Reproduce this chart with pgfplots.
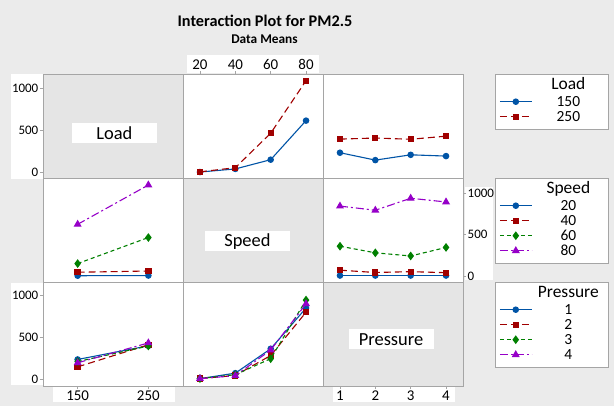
\documentclass[border=0pt]{standalone}
\usepackage{pgfplots}
\pgfplotsset{compat=1.18}
\usepackage{fontspec}
\setmainfont{Carlito}
\definecolor{bg}{RGB}{235,235,235}
\definecolor{diag}{RGB}{229,229,229}
\definecolor{axgray}{RGB}{165,165,165}
\definecolor{c1}{RGB}{0,84,166}
\definecolor{c2}{RGB}{160,0,0}
\definecolor{c3}{RGB}{0,128,0}
\definecolor{c4}{RGB}{150,0,200}
\tikzset{lab/.style={fill=white, minimum width=85bp, minimum height=20bp, inner sep=0pt, font=\fontsize{18.5}{18.5}\selectfont}}
\pgfplotsset{
 panel/.style={scale only axis, width=140bp, height=104bp, anchor=north west,
   axis line style={draw=axgray, line width=0.6bp},
   xtick=\empty, ytick=\empty,
   tick align=outside, major tick length=3bp,
   every tick/.append style={draw=axgray, line width=0.6bp},
   xticklabel style={font=\fontsize{15}{15}\selectfont, inner sep=1.5bp},
   yticklabel style={font=\fontsize{13}{13}\selectfont, inner sep=1.5bp},
   axis background/.style={fill=white},
   clip mode=individual,
   legend image code/.code={\draw[mark repeat=2,mark phase=2] plot coordinates {(0bp,0bp) (16bp,0bp) (32bp,0bp)};},
   legend cell align=left,
   legend style={anchor=north west, draw=axgray, fill=white, inner xsep=4bp, inner ysep=5bp, row sep=0bp,
     font=\fontsize{15.5}{15.5}\selectfont, nodes={inner sep=1bp, text height=11bp, text depth=2bp}},
 },
 diagp/.style={panel, axis background/.style={fill=diag}},
 rA/.style={ymin=-68, ymax=1170},
 rB/.style={ymin=-73, ymax=1185},
 rC/.style={ymin=-83, ymax=1155},
 cL/.style={xmin=101, xmax=299},
 cS/.style={xmin=10.4, xmax=89.6},
 cP/.style={xmin=0.52, xmax=4.48},
 s1/.style={color=c1, line width=1.1bp, solid, mark=*, mark size=2.7bp, mark options={solid}},
 s2/.style={color=c2, line width=1.1bp, dash pattern=on 7bp off 4bp, mark=square*, mark size=2.6bp, mark options={solid}},
 s3/.style={color=c3, line width=1.1bp, dash pattern=on 4bp off 3bp, mark=diamond*, mark size=3.5bp, mark options={solid}},
 s4/.style={color=c4, line width=1.1bp, dash pattern=on 8bp off 3bp on 2bp off 3bp, mark=triangle*, mark size=3.5bp, mark options={solid}},
}
\newcommand{\lt}[1]{\makebox[70bp][c]{#1}}
\newcommand{\ltt}[1]{\makebox[70bp][c]{\raisebox{1.5bp}{\fontsize{17.5}{17.5}\selectfont #1}}}
\begin{document}
\begin{tikzpicture}
\fill[bg] (0bp,0bp) rectangle (614bp,-406bp);
\fill[white] (11bp,-74bp) rectangle (43bp,-179bp);
\fill[white] (11bp,-283bp) rectangle (43bp,-385bp);
\fill[white] (187bp,-55bp) rectangle (319bp,-73bp);
\fill[white] (53bp,-387bp) rectangle (175bp,-402bp);
\fill[white] (333bp,-387bp) rectangle (455bp,-402bp);
\fill[white] (465bp,-187bp) rectangle (493bp,-280bp);
\node[font=\bfseries\fontsize{16.3}{16.3}\selectfont] at (265bp,-21bp) {Interaction Plot for PM2.5};
\node[font=\bfseries\fontsize{13.4}{13.4}\selectfont] at (264.5bp,-39.5bp) {Data Means};

% Row 1
\begin{axis}[diagp, rA, cL, at={(43bp,-74bp)}, ytick={0,500,1000}, yticklabels={0,500,1000}, ytick pos=left, yticklabel pos=left]
\node[lab] at (rel axis cs:0.51,0.428) {Load};
\end{axis}
\begin{axis}[panel, rA, cS, at={(183bp,-74bp)}, xtick={20,40,60,80}, xticklabels={20,40,60,80}, xtick pos=right, xticklabel pos=right]
\addplot[s1] coordinates {(20,3) (40,40) (60,150) (80,615)};
\addplot[s2] coordinates {(20,5) (40,55) (60,465) (80,1090)};
\end{axis}
\begin{axis}[panel, rA, cP, at={(323bp,-74bp)}, legend style={at={(1.229,1)}}]
\addlegendimage{empty legend}
\addlegendentry{\ltt{Load}}
\addplot[s1] coordinates {(1,233) (2,145) (3,208) (4,193)};
\addlegendentry{\lt{150}}
\addplot[s2] coordinates {(1,395) (2,408) (3,393) (4,430)};
\addlegendentry{\lt{250}}
\end{axis}

% Row 2
\begin{axis}[panel, rB, cL, at={(43bp,-178bp)}]
\addplot[s1] coordinates {(150,3) (250,5)};
\addplot[s2] coordinates {(150,45) (250,60)};
\addplot[s3] coordinates {(150,150) (250,465)};
\addplot[s4] coordinates {(150,625) (250,1100)};
\end{axis}
\begin{axis}[diagp, rB, cS, at={(183bp,-178bp)}]
\node[lab] at (rel axis cs:0.46,0.39) {Speed};
\end{axis}
\begin{axis}[panel, rB, cP, at={(323bp,-178bp)}, ytick={0,500,1000}, yticklabels={0,500,1000}, ytick pos=right, yticklabel pos=right, legend style={at={(1.229,1)}}]
\addlegendimage{empty legend}
\addlegendentry{\ltt{Speed}}
\addplot[s1] coordinates {(1,5) (2,5) (3,5) (4,5)};
\addlegendentry{\lt{20}}
\addplot[s2] coordinates {(1,70) (2,42) (3,52) (4,40)};
\addlegendentry{\lt{40}}
\addplot[s3] coordinates {(1,360) (2,280) (3,242) (4,345)};
\addlegendentry{\lt{60}}
\addplot[s4] coordinates {(1,845) (2,795) (3,940) (4,895)};
\addlegendentry{\lt{80}}
\end{axis}

% Row 3
\begin{axis}[panel, rC, cL, at={(43bp,-282bp)}, ytick={0,500,1000}, yticklabels={0,500,1000}, ytick pos=left, yticklabel pos=left, xtick={150,250}, xticklabels={150,250}, xtick pos=left, xticklabel pos=left]
\addplot[s1] coordinates {(150,233) (250,395)};
\addplot[s2] coordinates {(150,145) (250,408)};
\addplot[s3] coordinates {(150,208) (250,393)};
\addplot[s4] coordinates {(150,193) (250,430)};
\end{axis}
\begin{axis}[panel, rC, cS, at={(183bp,-282bp)}, legend style={at={(2.2286,1)}}]
\addlegendimage{empty legend}
\addlegendentry{\ltt{Pressure}}
\addplot[s1] coordinates {(20,5) (40,70) (60,360) (80,845)};
\addlegendentry{\lt{1}}
\addplot[s2] coordinates {(20,5) (40,42) (60,280) (80,795)};
\addlegendentry{\lt{2}}
\addplot[s3] coordinates {(20,5) (40,52) (60,242) (80,940)};
\addlegendentry{\lt{3}}
\addplot[s4] coordinates {(20,5) (40,40) (60,345) (80,895)};
\addlegendentry{\lt{4}}
\end{axis}
\begin{axis}[diagp, rC, cP, at={(323bp,-282bp)}, xtick={1,2,3,4}, xticklabels={1,2,3,4}, xtick pos=left, xticklabel pos=left]
\node[lab] at (rel axis cs:0.486,0.45) {Pressure};
\end{axis}
\end{tikzpicture}
\end{document}
